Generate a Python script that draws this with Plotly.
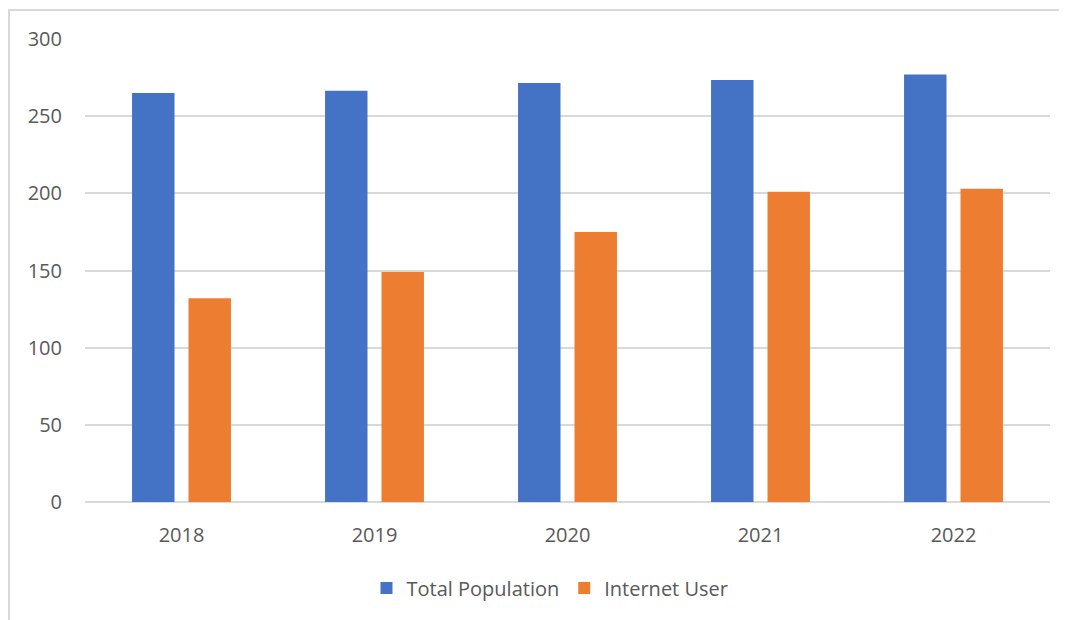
import plotly.graph_objects as go

years = ["2018", "2019", "2020", "2021", "2022"]
total_population = [265, 266.5, 271.5, 273.5, 277]
internet_user = [132, 149, 175, 201, 203]
y_ticks = [0, 50, 100, 150, 200, 250, 300]

OFF = 8  # page body margin
W, H = 1067 - OFF, 620 - OFF
ML, MT = 85 - OFF, 39 - OFF
pw, ph = 965, 463
MR = W - ML - pw
MB = H - MT - ph
base = MT + ph  # pixel y of zero line in figure coords

fig = go.Figure()
fig.add_trace(go.Bar(x=years, y=total_population, name="Total Population",
                     marker=dict(color="#4472C4", line=dict(width=0))))
fig.add_trace(go.Bar(x=years, y=internet_user, name="Internet User",
                     marker=dict(color="#ED7D31", line=dict(width=0))))

font = dict(family="Open Sans, Lato, sans-serif", size=20, color="#595959")

# chart border (light gray frame)
fig.add_shape(type="rect", xref="paper", yref="paper",
              x0=(9 - OFF - ML) / pw, x1=(W + 20 - ML) / pw,
              y0=-(H + 20 - base) / ph, y1=1 + (MT - (10 - OFF)) / ph,
              line=dict(color="#d9d9d9", width=2), fillcolor="rgba(0,0,0,0)",
              layer="below")

fig.update_layout(
    width=W, height=H,
    margin=dict(l=ML, r=MR, t=MT, b=MB, autoexpand=False),
    paper_bgcolor="white", plot_bgcolor="white",
    barmode="group", bargap=0.415, bargroupgap=0.248,
    font=font,
    showlegend=True,
    legend=dict(orientation="h", x=(550 - OFF - ML) / pw, xanchor="center",
                y=-(588 - OFF - base) / ph, yanchor="middle", font=font,
                itemwidth=30, traceorder="normal", bgcolor="rgba(0,0,0,0)"),
    xaxis=dict(showgrid=False, showline=False, ticks="", tickfont=font,
               ticklabelstandoff=19),
    yaxis=dict(range=[0, 300], tickvals=y_ticks, showgrid=True, gridcolor="#d9d9d9",
               gridwidth=1.5, zeroline=True, zerolinecolor="#d9d9d9", zerolinewidth=1.5,
               showline=False, ticks="", tickfont=font, ticklabelstandoff=22),
)

fig.write_html("out.html")
